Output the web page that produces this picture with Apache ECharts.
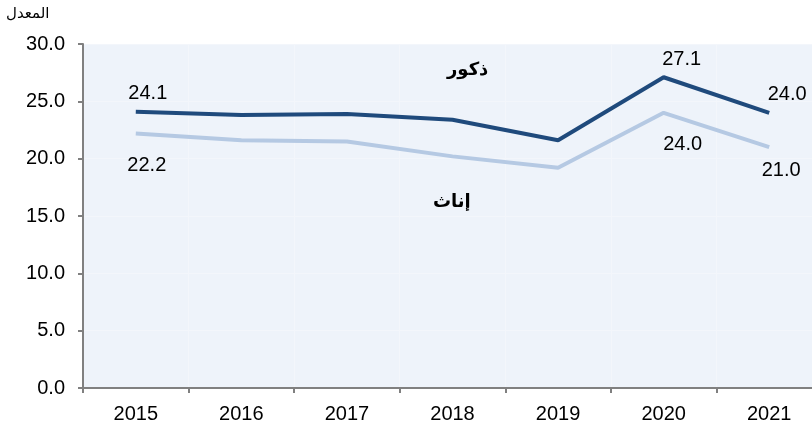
<!DOCTYPE html>
<html>
<head>
<meta charset="utf-8">
<script src="https://cdn.jsdelivr.net/npm/echarts@6/dist/echarts.min.js"></script>
<style>
  html, body { margin: 0; padding: 0; background: #fff; }
  #chart { width: 812px; height: 424px; }
</style>
</head>
<body>
<div id="chart"></div>
<script>
// السنوات
var years = ['2015', '2016', '2017', '2018', '2019', '2020', '2021'];
// ذكور / إناث
var males = [24.1, 23.8, 23.9, 23.4, 21.6, 27.1, 24.0];
var females = [22.2, 21.6, 21.5, 20.2, 19.2, 24.0, 21.0];
// points that carry a value label
var labelled = [0, 5, 6];

// label placement per point index (style only)
var maleLabelPos = { 0: [12, 0], 5: [18, 0], 6: [18, 0] };
var femaleLabelPos = { 0: [11, 0], 5: [19, 0], 6: [12, -9] };

var chart = echarts.init(document.getElementById('chart'));

function withLabels(values, pos, dist, offsets) {
  return values.map(function (v, i) {
    var on = labelled.indexOf(i) >= 0;
    return {
      value: v,
      label: { show: on, position: pos, distance: dist, offset: on ? offsets[i] : [0, 0] }
    };
  });
}

var labelStyle = {
  color: '#000',
  fontFamily: 'Liberation Sans, Arial',
  fontSize: 20,
  formatter: function (p) { return p.value.toFixed(1); }
};

var option = {
  animation: false,
  grid: {
    left: 83,
    top: 44,
    bottom: 36,
    width: 739,   // plot runs a little past the right edge
    outerBoundsMode: 'none',
    show: true,
    backgroundColor: '#eef3fa',
    borderWidth: 0
  },
  graphic: [
    {
      type: 'text', left: 6, top: 7,
      style: { text: 'المعدل', font: '15px DejaVu Sans', fill: '#000' }
    },
    {
      type: 'text', left: 447, top: 61,
      style: { text: 'ذكور', font: 'bold 18px DejaVu Sans', fill: '#000' }
    },
    {
      type: 'text', left: 433, top: 193,
      style: { text: 'إناث', font: 'bold 18px DejaVu Sans', fill: '#000' }
    }
  ],
  xAxis: {
    type: 'category',
    data: years,
    boundaryGap: true,
    axisLine: { lineStyle: { color: '#808080', width: 2 } },
    axisTick: { show: true, length: 5, lineStyle: { color: '#808080', width: 2 } },
    axisLabel: { color: '#000', fontSize: 20, fontFamily: 'Liberation Sans, Arial', margin: 16 },
    splitLine: { show: true, lineStyle: { color: '#f3f6fb', width: 1 } }
  },
  yAxis: {
    type: 'value',
    min: 0,
    max: 30,
    interval: 5,
    axisLine: { show: true, lineStyle: { color: '#808080', width: 2 } },
    axisTick: { show: true, length: 5, lineStyle: { color: '#808080', width: 2 } },
    axisLabel: {
      color: '#000', fontSize: 20, fontFamily: 'Liberation Sans, Arial', margin: 18,
      formatter: function (v) { return v.toFixed(1); }
    },
    splitLine: { show: true, lineStyle: { color: '#f3f6fb', width: 1 } }
  },
  series: [
    {
      name: 'إناث',
      type: 'line',
      data: withLabels(females, 'bottom', 22, femaleLabelPos),
      symbol: 'circle',
      symbolSize: 0,
      lineStyle: { color: '#b5c9e3', width: 4 },
      itemStyle: { color: '#b5c9e3' },
      label: labelStyle,
      z: 2
    },
    {
      name: 'ذكور',
      type: 'line',
      data: withLabels(males, 'top', 8, maleLabelPos),
      symbol: 'circle',
      symbolSize: 0,
      lineStyle: { color: '#1f4a7c', width: 4 },
      itemStyle: { color: '#1f4a7c' },
      label: labelStyle,
      z: 3
    }
  ]
};

chart.setOption(option);
</script>
</body>
</html>
